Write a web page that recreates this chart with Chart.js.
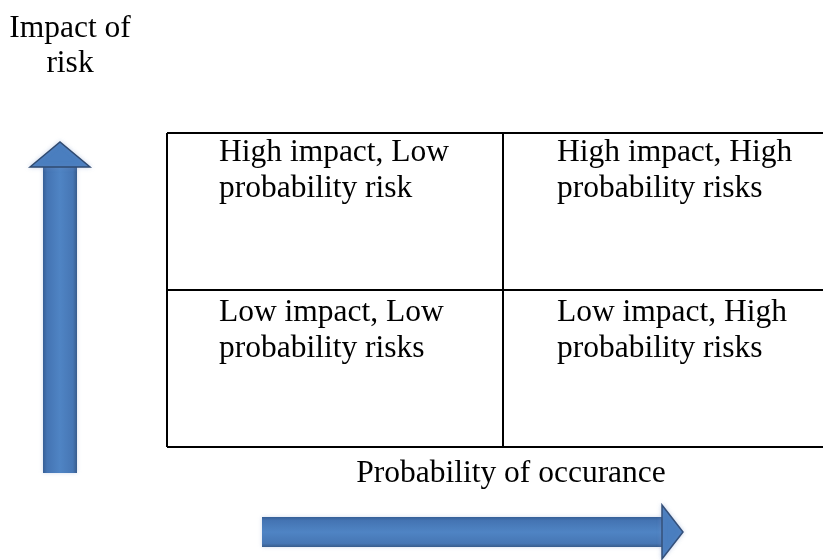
<!DOCTYPE html>
<html>
<head>
<meta charset="utf-8">
<title>Risk matrix</title>
<script src="https://cdn.jsdelivr.net/npm/chart.js@4/dist/chart.umd.min.js"></script>
<style>
    html, body { margin: 0; padding: 0; background: #fff; overflow: hidden; }
    #wrap { width: 823px; height: 560px; overflow: hidden; }
</style>
</head>
<body>
<div id="wrap"><canvas id="riskChart" width="845" height="560"></canvas></div>
<script>
// quadrants: probability (x) and impact (y) levels, 0 = low, 1 = high
const probLevels = ['Low', 'High'];
const impactLevels = ['Low', 'High'];
const cellProb = [0, 1, 0, 1];
const cellImpact = [1, 1, 0, 0];
const cellText = [
    ['High impact, Low', 'probability risk'],
    ['High impact, High', 'probability risks'],
    ['Low impact, Low', 'probability risks'],
    ['Low impact, High', 'probability risks']
];
const yTitle = ['Impact of', 'risk'];
const xTitle = 'Probability of occurance';

const FONT = '31.5px "Liberation Serif", "Times New Roman", serif';

function arrowFill(ctx, x0, y0, x1, y1) {
    const g = ctx.createLinearGradient(x0, y0, x1, y1);
    g.addColorStop(0, '#365f96');
    g.addColorStop(0.12, '#4474b3');
    g.addColorStop(0.5, '#4f84c4');
    g.addColorStop(0.88, '#4676b4');
    g.addColorStop(1, '#385c8c');
    return g;
}

const matrixPlugin = {
    id: 'matrixPlugin',
    afterDraw(chart) {
        const ctx = chart.ctx;
        const { x, y } = chart.scales;
        const area = chart.chartArea;
        ctx.save();

        // quadrant texts
        ctx.font = FONT;
        ctx.fillStyle = '#000';
        ctx.textAlign = 'left';
        ctx.textBaseline = 'alphabetic';
        cellText.forEach((lines, i) => {
            const left = x.getPixelForValue(cellProb[i]);
            const top = y.getPixelForValue(cellImpact[i] + 1);
            const dx = i % 2 === 0 ? 52 : 54;
            const dy = cellImpact[i] === 1 ? 28 : 31;
            lines.forEach((t, k) => ctx.fillText(t, left + dx, top + dy + k * 36));
        });

        // axis titles
        ctx.textAlign = 'center';
        yTitle.forEach((t, k) => ctx.fillText(t, area.left - 97, area.top - 96 + k * 35));
        ctx.fillText(xTitle, area.left + 344, area.bottom + 35);

        // vertical arrow (impact)
        const vx = area.left - 107;
        const vTip = area.top + 9, vBase = area.top + 34, vBottom = area.bottom + 26;
        ctx.shadowColor = 'rgba(120,150,200,0.35)';
        ctx.shadowBlur = 4;
        ctx.fillStyle = arrowFill(ctx, vx - 17, 0, vx + 17, 0);
        ctx.fillRect(vx - 17, vBase - 1, 34, vBottom - vBase + 1);
        ctx.beginPath();
        ctx.moveTo(vx - 30, vBase);
        ctx.lineTo(vx, vTip);
        ctx.lineTo(vx + 30, vBase);
        ctx.closePath();
        ctx.fillStyle = '#4a7ebf';
        ctx.fill();
        ctx.strokeStyle = '#2f4a70';
        ctx.lineWidth = 1.5;
        ctx.stroke();

        // horizontal arrow (probability)
        const hy = area.bottom + 85;
        const hLeft = area.left + 95, hHead = area.left + 495, hTip = area.left + 516;
        ctx.fillStyle = arrowFill(ctx, 0, hy - 15, 0, hy + 15);
        ctx.fillRect(hLeft, hy - 15, hHead - hLeft + 1, 30);
        ctx.beginPath();
        ctx.moveTo(hHead, hy - 27);
        ctx.lineTo(hTip, hy);
        ctx.lineTo(hHead, hy + 27);
        ctx.closePath();
        ctx.fillStyle = '#4a7ebf';
        ctx.fill();
        ctx.strokeStyle = '#34507a';
        ctx.stroke();

        ctx.restore();
    }
};

new Chart(document.getElementById('riskChart'), {
    type: 'scatter',
    data: {
        datasets: [{
            label: 'Quadrants',
            data: cellProb.map((p, i) => ({ x: p + 0.5, y: cellImpact[i] + 0.5 })),
            pointRadius: 0,
            pointHoverRadius: 0
        }]
    },
    options: {
        responsive: false,
        animation: false,
        events: [],
        layout: { padding: { left: 167, top: 133, right: 6, bottom: 113 } },
        plugins: { legend: { display: false }, tooltip: { enabled: false } },
        scales: {
            x: {
                min: 0, max: probLevels.length,
                ticks: { display: false, stepSize: 1 },
                grid: { color: '#000', lineWidth: 2, drawTicks: false },
                border: { display: false }
            },
            y: {
                min: 0, max: impactLevels.length,
                ticks: { display: false, stepSize: 1 },
                grid: { color: '#000', lineWidth: 2, drawTicks: false },
                border: { display: false }
            }
        }
    },
    plugins: [matrixPlugin]
});
</script>
</body>
</html>
